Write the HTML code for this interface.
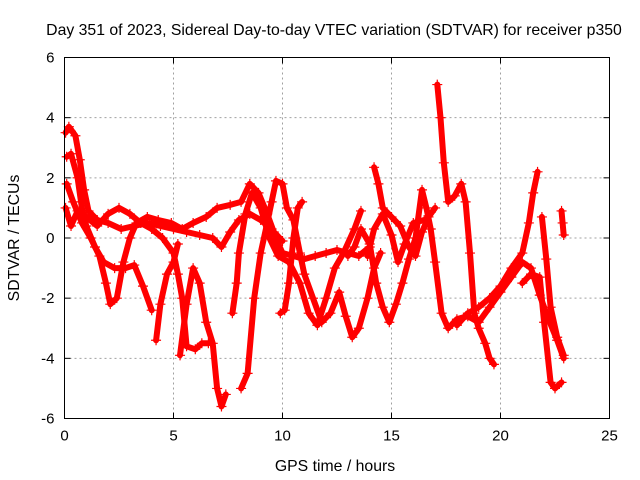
<!DOCTYPE html>
<html><head><meta charset="utf-8"><style>
html,body{margin:0;padding:0;background:#fff;}
svg{display:block;font-family:"Liberation Sans",sans-serif;}
</style></head><body>
<svg id="chart" width="640" height="480" viewBox="0 0 640 480">
<text x="334" y="35" font-size="15.8" text-anchor="middle">Day 351 of 2023, Sidereal Day-to-day VTEC variation (SDTVAR) for receiver p350</text>
<text x="335" y="471" font-size="15.8" text-anchor="middle">GPS time / hours</text>
<text transform="translate(19,238) rotate(-90)" font-size="15.8" text-anchor="middle">SDTVAR / TECUs</text>
<g id="grid"></g>
<g id="ticks"></g>
<g id="marks"></g>
<rect x="64.5" y="57.5" width="545" height="361" fill="none" stroke="#000" stroke-width="1"/>
</svg>
<script>
const xTicks=[0,5,10,15,20,25];
const yTicks=[-6,-4,-2,0,2,4,6];
const t1=[[0.05,3.5],[0.2,3.7],[0.5,3.4],[0.7,2.6],[0.9,1.6],[1.1,0.9],[1.5,0.6],[2,0.5],[2.6,0.3],[3.2,0.4],[3.8,0.5],[4.4,0.4],[5,0.3],[5.6,0.2],[6.2,0.1],[6.8,0.0],[7.2,-0.3],[7.6,0.2],[8.0,0.6],[8.5,0.8],[9,0.6],[9.5,0.3],[10,-0.5],[10.5,-0.6],[11,-0.7],[11.5,-0.6],[12,-0.5],[12.5,-0.4],[13,-0.5],[13.5,-0.6],[14,-0.3]];
const t2=[[0.1,2.7],[0.3,2.8],[0.6,2.0],[0.8,1.0],[1.0,0.4],[1.4,-0.3],[1.8,-0.8],[2.3,-1.0],[2.8,-1.0],[3.2,-0.9],[3.6,-1.6],[4.0,-2.4]];
const t3=[[0.1,1.8],[0.4,1.2],[0.8,0.5],[1.2,0.0],[1.6,-0.6],[1.9,-1.5],[2.1,-2.2],[2.4,-2.0],[2.7,-0.8],[3.0,0.0],[3.3,0.5],[3.8,0.7],[4.3,0.6],[4.9,0.5],[5.4,0.3],[5.9,0.5],[6.5,0.7],[7.0,1.0],[7.6,1.1],[8.1,1.2],[8.5,1.8],[8.9,1.5],[9.3,0.8],[9.6,0.2],[10.0,-0.1]];
const t4=[[0.05,1.0],[0.3,0.4],[0.6,0.9],[1.0,0.7],[1.5,0.4],[2.0,0.8],[2.5,1.0],[3.0,0.8],[3.5,0.5],[4.0,0.3],[4.5,0.0],[5.0,-0.5],[5.2,-1.2],[5.4,-2.0],[5.6,-3.6],[6.0,-3.7],[6.3,-3.5],[6.6,-3.5]];
const t5=[[4.2,-3.4],[4.4,-2.2],[4.7,-1.2],[5.0,-0.8],[5.2,-0.2]];
const t6=[[5.3,-3.9],[5.6,-2.2],[5.9,-1.0],[6.2,-1.5],[6.5,-2.8],[6.8,-3.5],[7.0,-5.0],[7.2,-5.6],[7.4,-5.2]];
const t7=[[8.1,-5.0],[8.4,-4.5],[8.7,-2.0],[9.0,-0.5],[9.3,0.5],[9.5,1.2],[9.7,1.9],[10.0,1.8],[10.2,1.0],[10.5,0.6],[10.8,-0.5],[11.0,-1.2],[11.4,-2.0],[11.8,-2.8],[12.2,-2.5],[12.6,-1.8],[12.9,-2.6],[13.2,-3.3],[13.5,-3.0],[13.9,-2.0],[14.2,-1.0],[14.5,-0.5]];
const t8=[[7.7,-2.5],[7.9,-1.5],[8.0,-0.5],[8.3,0.8],[8.6,1.5],[9.0,1.0],[9.4,0.0],[9.8,-0.6],[10.3,-0.8],[10.8,-1.5],[11.2,-2.5],[11.6,-2.9],[12.0,-2.0],[12.4,-1.0],[12.8,-0.5],[13.3,0.3],[13.6,0.9]];
const t9=[[9.9,-2.5],[10.1,-2.4],[10.3,-1.5],[10.5,0.0],[10.7,1.0],[10.9,1.2]];
const t10=[[13.0,-0.6],[13.3,-0.3],[13.6,0.3],[14.0,-0.2],[14.3,-1.5],[14.6,-2.3],[14.9,-2.8],[15.2,-2.2],[15.5,-1.5],[15.8,-0.7],[16.1,0.0],[16.4,1.6],[16.6,1.0],[16.8,0.3],[17.0,-0.8],[17.3,-2.5],[17.6,-3.0],[18.0,-2.7],[18.5,-2.6],[19.0,-2.8],[19.5,-2.3],[20.0,-1.8],[20.5,-1.3],[21.0,-0.8],[21.4,-1.0],[21.8,-1.9],[22.2,-2.7],[22.6,-3.4],[22.9,-4.0]];
const t11=[[14.2,2.35],[14.4,1.8],[14.6,1.0],[15.0,0.7],[15.4,0.4],[15.8,-0.3],[16.1,-0.6],[16.4,0.2],[16.7,0.7],[17.0,1.0]];
const t12=[[17.1,5.1],[17.25,4.0],[17.4,2.5],[17.6,1.2],[17.9,1.4],[18.2,1.8],[18.4,1.2],[18.6,-0.5],[18.8,-2.5],[19.0,-3.0],[19.3,-3.5],[19.5,-4.0],[19.7,-4.2]];
const t13=[[13.9,-0.6],[14.2,0.3],[14.6,0.8],[15.0,0.1],[15.3,-0.8],[15.6,-0.2],[16.0,0.5],[16.5,0.6]];
const t14=[[18.0,-2.9],[18.5,-2.5],[19.0,-2.3],[19.5,-2.0],[20.0,-1.6],[20.5,-1.0],[21.0,-0.5],[21.3,0.5],[21.5,1.5],[21.7,2.2]];
const t15=[[21.0,-1.5],[21.4,-1.2],[21.8,-1.3],[22.0,-2.8],[22.3,-4.8],[22.5,-5.0],[22.8,-4.8]];
const t16=[[21.9,0.7],[22.1,-0.7],[22.3,-2.3],[22.6,-3.3],[22.9,-3.9]];
const t17=[[22.8,0.9],[22.85,0.5],[22.9,0.1]];
const tracks=[t1,t2,t3,t4,t5,t6,t7,t8,t9,t10,t11,t12,t13,t14,t15,t16,t17];

const NS='http://www.w3.org/2000/svg';
const X0=64.5,X1=609.5,Y0=418.5,Y1=57.5;
function sx(t){return X0+(t-0)/(25-0)*(X1-X0);}
function sy(v){return Y0-(v+6)/12*(Y0-Y1);}
function mk(tag,attrs,parent){const e=document.createElementNS(NS,tag);for(const k in attrs)e.setAttribute(k,attrs[k]);parent.appendChild(e);return e;}
const grid=document.getElementById('grid'),ticks=document.getElementById('ticks'),marks=document.getElementById('marks');
xTicks.forEach(t=>{
  const x=sx(t);
  if(t>0&&t<25){const g=mk('line',{x1:x,x2:x,y1:Y1,y2:Y0,stroke:'#a0a0a0','stroke-dasharray':'2,3'},grid);
  
  }
  const a=mk('line',{x1:x,x2:x,y1:Y0,y2:Y0-6,stroke:'#000'},ticks);
  
  
  const b=mk('line',{x1:x,x2:x,y1:Y1,y2:Y1+6,stroke:'#000'},ticks);
  
  
  const l=mk('text',{x:x,y:Y0+22,'font-size':15,'text-anchor':'middle'},ticks);
  l.textContent=t;
  
  
});
yTicks.forEach(v=>{
  const y=sy(v);
  if(v>-6&&v<6){const g=mk('line',{x1:X0,x2:X1,y1:y,y2:y,stroke:'#a0a0a0','stroke-dasharray':'2,3'},grid);
  
  }
  const a=mk('line',{x1:X0,x2:X0+6,y1:y,y2:y,stroke:'#000'},ticks);
  
  
  const b=mk('line',{x1:X1,x2:X1-6,y1:y,y2:y,stroke:'#000'},ticks);
  
  
  const l=mk('text',{x:X0-10,y:y+5,'font-size':15,'text-anchor':'end'},ticks);
  l.textContent=v;
  
  
});
tracks.forEach((tr,i)=>{
  const pts=tr.map(p=>sx(p[0]).toFixed(1)+','+sy(p[1]).toFixed(1)).join(' ');
  const pl=mk('polyline',{points:pts,fill:'none',stroke:'#ff0000','stroke-width':6,'stroke-linejoin':'round','stroke-linecap':'round'},marks);
  
  
  tr.forEach(p=>{
    const x=sx(p[0]),y=sy(p[1]);
    const m=mk('path',{d:`M${x-5},${y}H${x+5}M${x},${y-5}V${y+5}`,stroke:'#ff0000','stroke-width':1.2},marks);
    
    
  });
});
</script>
</body></html>
